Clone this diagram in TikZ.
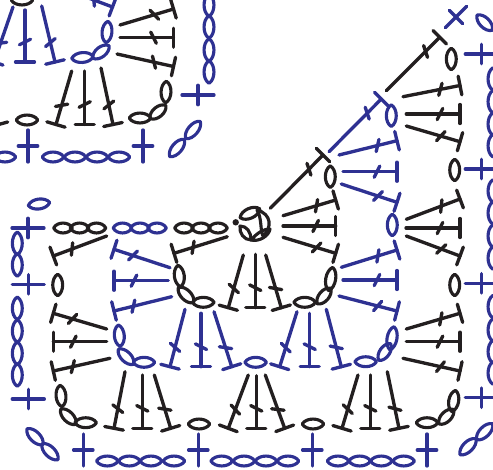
\documentclass[tikz,border=0pt]{standalone}
\definecolor{chartblue}{HTML}{2E3192}
\definecolor{chartblack}{HTML}{231F20}
\tikzset{
  stitchline/.style={line width=2.5pt,line cap=round,line join=round},
  leafline/.style={line width=2.35pt,line join=round}
}
% \lf colour x y angle half-length
\newcommand{\lf}[5]{%
  \begin{scope}[shift={(#2,#3)},rotate=#4,x=.75pt,y=.75pt]
    \draw[leafline,draw=#1] ({-(#5-.2)},0) .. controls ({-(#5-.2)*.65},-6.6) and ({(#5-.2)*.65},-6.6) .. ({#5-.2},0)
      .. controls ({(#5-.2)*.65},6.6) and ({-(#5-.2)*.65},6.6) .. cycle;
  \end{scope}}
% \dc colour freex freey basex basey tick-sign
\newcommand{\dc}[6]{%
  \pgfmathsetmacro{\dcang}{atan2(-(#3-#5),#2-#4)}%
  \pgfmathsetmacro{\dclen}{veclen(#2-#4,#3-#5)}%
  \begin{scope}[shift={(#4,#5)},rotate=\dcang,x=.75pt,y=.75pt]
    \draw[stitchline,draw=#1] (0,0) -- (\dclen,0);
    \draw[stitchline,draw=#1] (0,-9.5) -- (0,9.5);
    \draw[stitchline,draw=#1] ({20-2.8*#6},-5.6) -- ({20+2.8*#6},5.6);
  \end{scope}}
% \pl colour x y angle : long arm 17 along angle, short arm 10.7 across
\newcommand{\pl}[4]{%
  \begin{scope}[shift={(#2,#3)},rotate=#4,x=.75pt,y=.75pt]
    \draw[stitchline,draw=#1] (-16,0) -- (16,0);
    \draw[stitchline,draw=#1] (0,-9.7) -- (0,9.7);
  \end{scope}}
\begin{document}
\begin{tikzpicture}[x=.75pt,y=-.75pt]
\useasboundingbox (0,0) rectangle (493,469);
\clip (0,0) rectangle (493,469);
% ---- top-left piece
\foreach \a/\b/\c/\d in {13/7/-6/62,25/10/25/62,41.7/6/55/62,78/-6/112.5/7}{\dc{chartblue}{\a}{\b}{\c}{\d}{-1}}
\lf{chartblue}{107}{32}{85}{11}
\lf{chartblue}{101}{52}{38}{10.5}
\lf{chartblue}{82.5}{57.5}{5}{11}
\lf{chartblack}{22}{0}{0}{11}
\foreach \a/\b/\c/\d in {120/25/173.5/9,120/37.7/173.5/37.7,117/54/173.5/66.5}{\dc{chartblack}{\a}{\b}{\c}{\d}{-1}}
\foreach \y in {5,27,50,72}{\lf{chartblue}{209}{\y}{90}{11.5}}
\pl{chartblue}{198}{95}{0}
\pl{chartblue}{143}{146}{90}
\pl{chartblue}{28}{146}{90}
\lf{chartblue}{177}{148}{50}{11.5}
\lf{chartblue}{193}{130}{50}{11.5}
\foreach \x in {5,53,75,97,119}{\lf{chartblue}{\x}{157}{0}{11}}
\lf{chartblack}{27}{120}{0}{11}
\lf{chartblack}{140}{118}{0}{11}
\lf{chartblack}{158}{112}{40}{10.5}
\lf{chartblack}{166}{92}{88}{11}
\foreach \a/\b/\c/\d in {71.7/71/56/124.5,84.7/71/84.7/124.5,101/68/113/124.5,-16/71/-1.5/124.5}{\dc{chartblack}{\a}{\b}{\c}{\d}{-1}}
% ---- main piece: edge blue
\lf{chartblue}{39}{204}{8}{11}
\pl{chartblue}{28}{228}{0}
\foreach \x in {63,79.5,96.5,184,201,218}{\lf{chartblack}{\x}{228}{0}{9.5}}
\foreach \x in {122.5,140,157}{\lf{chartblue}{\x}{228}{0}{9.5}}
% centre ring
\fill[chartblack] (235.7,222.3) circle[radius=3.2];
\lf{chartblack}{250}{213.3}{24}{11}
\draw[leafline,draw=chartblack] (257,210) .. controls (272,214) and (272,228) .. (263,236) .. controls (260,230) and (262,218) .. cycle;
\draw[leafline,draw=chartblack] (251,240) .. controls (258,232) and (264,229) .. (270,229) .. controls (269,236) and (259,242) .. cycle;
\draw[leafline,draw=chartblack] (240,226) .. controls (247,226) and (251,232) .. (251,240) .. controls (244,240) and (239,233) .. cycle;
% right corner top
\begin{scope}[shift={(456,17)},rotate=45,x=.75pt,y=.75pt]
  \draw[stitchline,draw=chartblue] (-15,0) -- (15,0);
  \draw[stitchline,draw=chartblue] (0,-9.5) -- (0,9.5);
\end{scope}
\lf{chartblue}{484.7}{22.7}{-45}{11}
\dc{chartblack}{386.3}{90.7}{439.7}{37.3}{1}
\dc{chartblue}{329}{151.7}{381.3}{99}{1}
\dc{chartblack}{270.3}{208.3}{323}{155}{1}
\lf{chartblack}{451.3}{59}{90}{11}
\lf{chartblue}{391.3}{115.7}{90}{11}
\lf{chartblack}{330.3}{176.7}{90}{11}
\lf{chartblack}{454.7}{170}{90}{11}
\lf{chartblue}{392.3}{225}{90}{11}
\foreach \y in {54,169,283.3,397.7}{\pl{chartblue}{481.3}{\y}{0}}
\foreach \y in {79,101.7,124,145.7,191,213,236,258,306.7,330,351.7,373}{\lf{chartblue}{493}{\y}{90}{11.5}}
% right black column
\foreach \a/\b/\c/\d in {403/96.7/460/85.5,406.3/114/460/114,406.3/126/460/141.7,406.3/219.3/460/199,406/228/460/228,406.3/236/460/256,406.3/329/460/313.3,406.3/341.7/460/341.7,403/358.3/460/371}{\dc{chartblack}{\a}{\b}{\c}{\d}{1}}
% blue column
\foreach \a/\b/\c/\d in {339/155/397/140.7,343/171.7/397/171.7,341.3/184/397/202.3,341.3/267.3/397/250,343/280/397/280,339/296/397/311}{\dc{chartblue}{\a}{\b}{\c}{\d}{1}}
% inner black column right
\foreach \a/\b/\c/\d in {283/215.7/335.7/200,283/226/335.7/226,283/237.3/335.7/253.3}{\dc{chartblack}{\a}{\b}{\c}{\d}{1}}
\lf{chartblack}{454.7}{285}{90}{11}
\lf{chartblack}{453.7}{401}{80}{11}
\lf{chartblack}{446.3}{416.7}{45}{10.5}
\lf{chartblack}{427}{422.7}{0}{11}
\lf{chartblue}{392}{338.3}{80}{12}
\lf{chartblue}{384.7}{352}{55}{10.5}
\lf{chartblue}{365.7}{361.7}{0}{11}
\lf{chartblack}{330.7}{279}{80}{12}
\lf{chartblack}{324}{296}{50}{10.5}
\lf{chartblack}{304.7}{302.3}{0}{11}
% rows
\foreach \a/\b/\c/\d in {255.3/254.3/255.3/307.7,265.7/255/281.3/307.7,243.3/255/228.3/307.7,248.3/375/228.3/428.3,256.3/375.7/256.3/428.3,265.3/375/284.7/428.3,358/375/342/428.3,370.3/375/370.3/428.3,387.3/371.7/399/428.3,125/371.7/114/428.3,142.3/375/142.3/428.3,154.3/375/170.7/428.3}{\dc{chartblack}{\a}{\b}{\c}{\d}{1}}
\foreach \a/\b/\c/\d in {297/311.7/279.7/366.7,309.7/313.3/309.7/366.7,326.3/309.3/341.3/366.7,185/309.3/170/366.7,201/313.3/201/366.7,214/311.7/231.7/366.7}{\dc{chartblue}{\a}{\b}{\c}{\d}{1}}
\lf{chartblue}{255.7}{362.3}{0}{11}
\lf{chartblack}{199}{424}{0}{11}
\lf{chartblack}{313}{424}{0}{11}
\foreach \x in {312.3,427,198.3,83.3}{\pl{chartblue}{\x}{450}{90}}
\foreach \x in {107.3,129.3,151,174,221.7,244,266,288,338,359.7,381.3,403.7}{\lf{chartblue}{\x}{461}{0}{11}}
\lf{chartblue}{468}{446.7}{45}{11.5}
\lf{chartblue}{484.7}{431.7}{45}{11.5}
\lf{chartblue}{35}{436.7}{-45}{11.5}
\lf{chartblue}{50}{451.7}{-45}{11.5}
\pl{chartblue}{28.3}{399}{0}
\pl{chartblue}{28.3}{284.3}{0}
\foreach \y in {243.3,265,308.3,331,353.3,375}{\lf{chartblue}{17.3}{\y}{90}{11.5}}
% left columns
\foreach \a/\b/\c/\d in {106.7/236/53.3/256,106.7/329/53.3/313.3,106.7/341.7/53.3/341.7,110/358.3/53.3/371,227.3/236.7/174/253.3}{\dc{chartblack}{\a}{\b}{\c}{\d}{1}}
\lf{chartblack}{57.7}{285}{90}{11}
\foreach \a/\b/\c/\d in {170/267.7/114/249.3,168.3/280.7/114/280.7,171.7/296.7/114/311}{\dc{chartblue}{\a}{\b}{\c}{\d}{1}}
\lf{chartblack}{179.3}{276}{97}{11}
\lf{chartblack}{186}{295}{-45}{11}
\lf{chartblack}{203.3}{302.3}{0}{11}
\lf{chartblue}{119.3}{335.7}{95}{11}
\lf{chartblue}{126}{356.7}{-45}{11}
\lf{chartblue}{144}{362.3}{0}{11}
\lf{chartblack}{61}{396}{95}{11}
\lf{chartblack}{68.3}{416.7}{-45}{11}
\lf{chartblack}{85.7}{422.7}{0}{11}
\end{tikzpicture}
\end{document}
